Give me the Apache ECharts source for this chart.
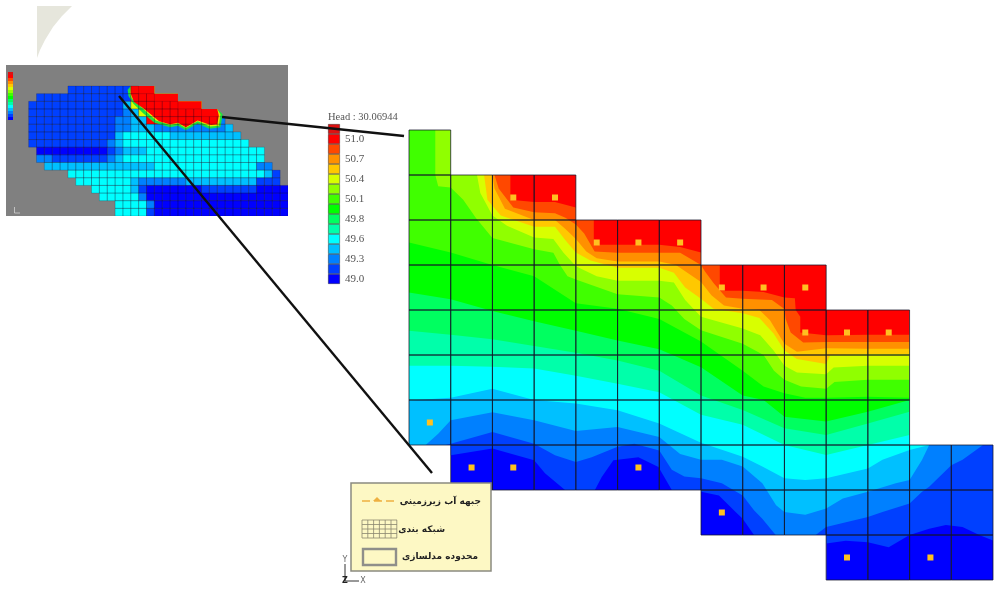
<!DOCTYPE html>
<html><head><meta charset="utf-8">
<style>html,body{margin:0;padding:0;background:#fff}#c{width:1002px;height:589px}#c canvas{filter:blur(0.5px)}</style>
<script src="https://cdn.jsdelivr.net/npm/echarts@6/dist/echarts.min.js"></script>
</head><body><div id="c"></div>
<script>
// colour ramp, bottom swatch first
const bandColors=['#0000ff','#0040ff','#0080ff','#00c0ff','#00ffff','#00ffaa','#00ff60','#00ff00','#40ff00','#90ff00','#d8ff00','#ffc800','#ff9000','#ff4800','#ff0000','#dd1111'];
const legendLabels=['49.0','','49.3','','49.6','','49.8','','50.1','','50.4','','50.7','','51.0',''];
// active model cells per row: [first column, end column]
const rowSpans=[[0,1],[0,4],[0,7],[0,10],[0,12],[0,12],[0,12],[1,14],[7,14],[10,14]];
// head contours: [column, row] along the lower edge of each band
const contour1=[[0,7.5],[1,7.23],[2,7.08],[3,7.34],[3.26,7.63],[3.74,8],[4,8.1],[4.4,8.1],[4.62,7.71],[4.9,7.34],[5.5,7.27],[5.98,7.49],[6.3,8],[6.6,8.2],[7,8.04],[7.43,8.12],[7.83,8.49],[8,8.64],[8.27,9],[8.47,9.2],[10,9.19],[10.47,9.13],[11,9.16],[11.5,9.27],[12,9],[12.47,8.86],[12.87,8.78],[13.27,8.82],[13.67,9],[14,9.12]];
const contour2=[[0,7.2],[1,6.97],[2,6.71],[3,6.97],[3.5,7.23],[4,7.38],[4.38,7.27],[5,7.04],[5.4,6.97],[6,7.12],[6.3,7.55],[6.6,7.7],[7,7.74],[7.5,7.85],[8,8.12],[8.27,8.45],[8.47,8.64],[8.79,9],[9,9.16],[9.75,9.16],[9.75,9],[10,8.82],[11,8.6],[11.35,8.49],[12,8.3],[12.3,8.04],[12.47,7.93],[13,7.45],[13.27,7.33],[13.76,7],[14,6.8]];
const contour3=[[0,7.2],[0.4,7],[0.7,6.75],[1,6.45],[2,6.27],[3,6.45],[4,6.69],[5,6.6],[6,6.82],[6.5,7.2],[7,7.33],[7.5,7.33],[8,7.48],[8.47,7.85],[8.8,8.34],[9,8.49],[9.5,8.55],[10,8.41],[10.4,8.19],[11,8.04],[11.67,7.85],[12,7.78],[12.3,7.33],[12.47,7],[12.6,6.9],[14,6.8]];
const contour4=[[0,6.01],[1,5.95],[2,5.75],[3,6],[4,6.08],[5,6.23],[6,6.52],[7,6.95],[8,7.26],[8.47,7.48],[9,7.74],[9.5,7.78],[10,7.74],[11,7.52],[11.35,7.33],[12,7.11],[12.47,7],[12.6,6.8],[14,6.7]];
const contour5=[[0,5.24],[1,5.24],[2,5.26],[3,5.3],[4,5.46],[5,5.64],[6,5.83],[7,6.33],[8,6.55],[9,7],[10,7.22],[11,7],[12,6.78],[12.5,6.6],[14,6.5]];
const contour6=[[0,4.46],[1,4.55],[2,4.65],[3,4.8],[4,4.95],[5,5.12],[6,5.35],[7,5.9],[8,6.22],[9,6.63],[10,6.78],[11,6.52],[12,6.26],[14,6.2]];
const contour7=[[0,3.61],[1,3.76],[2,4.02],[3,4.25],[4,4.46],[5,4.68],[6,4.87],[7,5.27],[8,5.9],[8.5,6],[9,6.37],[10,6.48],[11,6.26],[12,6],[14,5.9]];
const contour8=[[0,2.5],[1,2.72],[2,3],[3,3.25],[4,3.85],[5,3.97],[6,4.2],[7,4.7],[8,5.35],[8.5,5.7],[9,5.85],[9.5,5.95],[10,5.95],[11,5.93],[12,5.95],[14,5.9]];
const contour9=[[0.63,0],[0.63,1],[0.7,1.25],[1,1.28],[1.3,1.55],[1.6,1.95],[2,2.4],[3,2.65],[3.46,2.73],[3.62,3],[3.8,3.25],[4,3.32],[5,3.65],[6,3.72],[6.3,3.9],[6.6,4.2],[7,4.45],[8,4.75],[8.5,5],[8.75,5.35],[9,5.55],[9.4,5.7],[10,5.75],[10.2,5.6],[11,5.55],[12,5.55]];
const contour10=[[1.63,1],[1.71,1.4],[2,1.9],[2.35,2.13],[3,2.39],[3.46,2.42],[3.7,2.72],[4,3.03],[4.5,3.25],[5,3.35],[6,3.35],[6.35,3.39],[6.62,3.78],[7,4.15],[8,4.41],[8.42,4.56],[8.74,4.9],[9,5.24],[9.3,5.39],[10,5.43],[10.18,5.28],[11,5.24],[12,5.24]];
const contour11=[[1.8,1],[1.88,1.55],[2.2,1.9],[3,2.15],[3.5,2.15],[3.75,2.45],[4,2.72],[4.35,2.9],[5,3.06],[6,3.06],[6.35,3.17],[6.62,3.5],[7,3.75],[7.3,3.97],[8,4.07],[8.4,4.18],[8.74,4.52],[9,4.9],[9.3,5.09],[10,5.2],[10.1,5],[11,4.98],[12,4.98]];
const contour12=[[2,1],[2.05,1.3],[2.3,1.75],[3,2],[3.5,2],[3.75,2.2],[4,2.42],[4.25,2.7],[4.5,2.85],[5,2.92],[6,2.92],[6.4,3],[7,3.38],[7.25,3.67],[7.55,3.9],[8,3.97],[8.4,4],[8.65,4.22],[9,4.75],[9.3,4.93],[10,4.85],[11,4.86],[12,4.86]];
const contour13=[[2.05,1],[2.15,1.3],[2.5,1.72],[3,1.83],[3.5,1.85],[3.75,1.95],[4,2.1],[4.2,2.3],[4.45,2.7],[5,2.73],[6,2.73],[6.5,2.73],[7,3],[7.1,3.15],[7.3,3.4],[7.6,3.72],[8,3.75],[8.7,3.78],[9,3.98],[9.03,4.2],[9.15,4.5],[9.45,4.72],[10,4.71],[12,4.71]];
const contour14=[[2.43,1],[2.43,1.55],[3,1.6],[3.5,1.6],[4,1.72],[4.02,1.9],[4.43,2],[4.43,2.55],[5,2.55],[6,2.55],[6.5,2.6],[7,2.72],[7.02,2.9],[7.45,3],[7.45,3.57],[8,3.57],[8.5,3.6],[9,3.72],[9.25,3.74],[9.27,4],[9.38,4.15],[9.38,4.5],[10,4.56],[11,4.55],[12,4.55]];
// pumping wells: [column, row]
const wells=[[2.5,1.5],[3.5,1.5],[4.5,2.5],[5.5,2.5],[6.5,2.5],[7.5,3.5],[8.5,3.5],[9.5,3.5],[9.5,4.5],[10.5,4.5],[11.5,4.5],[0.5,6.5],[1.5,7.5],[2.5,7.5],[5.5,7.5],[7.5,8.5],[10.5,9.5],[12.5,9.5]];
// regional model: one band code per cell (hex index into bandColors)
const regionalRows=[
'.....111111111...................',
'.111111111111eee.................',
'1111111111113aeeeee..............',
'11111111111123aeeeeeee...........',
'111111111112233eeeeeeeee2........',
'11111111111223332222222223.......',
'111111111113444444333333333......',
'1111111111234444444444444444.....',
'.00000000012333444444444444444...',
'.22111111123444444444444444444...',
'..33333333333333444444444444422..',
'.....4444444444444444444444444311.'.slice(0,32)+'.',
'......44444443222222333333333111.',
'........444443100000001111111'+'0000',
'.........44444'+'2'+'000000000000000000',
'...........4444'+'2'+'00000000000000000',
'...........4444'+'1'+'00000000000000000'
];
// regional model red-zone edges: [column, row]
const regionalGreen=[[12.6,0.5],[12.7,1.3],[13.3,2.3],[14.6,3.6],[16,4.8],[18,5.4],[19,5.2],[20,5.8],[21.5,4.9],[23,5.6],[24.4,5.4],[24.7,3.7]];
const regionalYellow=[[12.9,0.9],[13.1,1.6],[13.6,2.1],[14.9,3.3],[16.2,4.5],[18,5.1],[19,4.9],[20,5.5],[21.5,4.6],[23.1,5.3],[24.2,5.2],[24.4,3.7]];
const regionalRed=[[13,1],[13.4,2.1],[14.6,2.9],[16,4.1],[16.6,4.6],[18,5],[19,4.8],[20,5.4],[21.5,4.5],[23.2,5.1],[24,5],[24.2,3.9]];
const regionalStairs=[[24,3],[22,3],[22,2],[19,2],[19,1],[16,1],[16,0],[13,0]];

const contours=[contour1,contour2,contour3,contour4,contour5,contour6,contour7,contour8,contour9,contour10,contour11,contour12,contour13,contour14];
const cells=[],gaps=[];
rowSpans.forEach((s,r)=>{
  for(let c=s[0];c<s[1];c++)cells.push([c,r]);
  if(s[0]>0)gaps.push([0,s[0],r]);
  if(s[1]<14)gaps.push([s[1],14,r]);
});
const regionalCells=[];
regionalRows.forEach((row,r)=>{row.slice(0,33).split('').forEach((ch,c)=>{if(ch!=='.'&&ch!==' ')regionalCells.push([c,r,parseInt(ch,16)]);});});

const rectShape=(api,x0,y0,x1,y1)=>{const a=api.coord([x0,y0]),b=api.coord([x1,y1]);return{x:a[0],y:a[1],width:b[0]-a[0],height:b[1]-a[1]};};
const series=[
 {type:'custom',name:'base',xAxisIndex:0,yAxisIndex:0,z:2,silent:true,data:cells,
  renderItem:(p,api)=>({type:'rect',shape:rectShape(api,api.value(0),api.value(1),api.value(0)+1,api.value(1)+1),style:{fill:bandColors[0]}})},
 {type:'custom',name:'contours',xAxisIndex:0,yAxisIndex:0,z:3,silent:true,clip:true,data:contours.map((c,i)=>[i,0]),
  renderItem:(p,api)=>{const i=api.value(0),c=contours[i];
    const pts=c.concat([[c[c.length-1][0],0],[c[0][0],0]]).map(q=>api.coord(q));
    return{type:'polygon',shape:{points:pts},style:{fill:bandColors[i+1]}};}},
 {type:'custom',name:'mask',xAxisIndex:0,yAxisIndex:0,z:4,silent:true,data:gaps,
  renderItem:(p,api)=>({type:'rect',shape:rectShape(api,api.value(0),api.value(2),api.value(1),api.value(2)+1),style:{fill:'#fff'}})},
 {type:'custom',name:'grid',xAxisIndex:0,yAxisIndex:0,z:5,silent:true,data:cells,
  renderItem:(p,api)=>({type:'rect',shape:rectShape(api,api.value(0),api.value(1),api.value(0)+1,api.value(1)+1),style:{fill:'none',stroke:'rgba(20,20,40,0.75)',lineWidth:1}})},
 {type:'scatter',name:'wells',xAxisIndex:0,yAxisIndex:0,z:6,silent:true,symbol:'rect',symbolSize:6,itemStyle:{color:'#ffc020',opacity:1},data:wells},
 {type:'custom',name:'regional',xAxisIndex:1,yAxisIndex:1,z:2,silent:true,clip:true,data:regionalCells,
  renderItem:(p,api)=>({type:'rect',shape:rectShape(api,api.value(0),api.value(1),api.value(0)+1,api.value(1)+1),style:{fill:bandColors[api.value(2)]}})},
 {type:'custom',name:'regionalEdge',xAxisIndex:1,yAxisIndex:1,z:3,silent:true,clip:true,data:[[0,0],[1,0],[2,0]],
  renderItem:(p,api)=>{const i=api.value(0),e=[regionalGreen,regionalYellow,regionalRed][i];
    return{type:'polygon',shape:{points:e.concat(regionalStairs).map(q=>api.coord(q))},style:{fill:['#20e040','#e8e800','#ff0000'][i]}};}},
 {type:'custom',name:'regionalGrid',xAxisIndex:1,yAxisIndex:1,z:4,silent:true,clip:true,data:regionalCells,
  renderItem:(p,api)=>({type:'rect',shape:rectShape(api,api.value(0),api.value(1),api.value(0)+1,api.value(1)+1),style:{fill:'none',stroke:'rgba(0,0,40,0.3)',lineWidth:0.6}})},
 {type:'bar',name:'legend',xAxisIndex:2,yAxisIndex:2,z:2,silent:true,barWidth:'100%',
  data:bandColors.map(c=>({value:1,itemStyle:{color:c,borderColor:'rgba(0,0,0,0.55)',borderWidth:0.7}}))}
];
const hiddenVal=(min,max,inv)=>({type:'value',min,max,inverse:!!inv,show:false,scale:false,splitLine:{show:false}});
const legendY={type:'category',gridIndex:2,data:legendLabels,position:'right',axisLine:{show:false},axisTick:{show:false},
  axisLabel:{interval:0,margin:5,color:'#555',fontFamily:'Liberation Serif',fontSize:11}};
const el=[];
// decorative corner
el.push({type:'polygon',shape:{points:[[37,6],[72,6],[62,16],[53,27],[45,40],[40,50],[37,58]]},style:{fill:'#e6e6dc'},z:1});
// callouts
el.push({type:'line',shape:{x1:222,y1:117,x2:404,y2:136},style:{stroke:'#111',lineWidth:2.4},z:50});
el.push({type:'line',shape:{x1:119,y1:96,x2:432,y2:473},style:{stroke:'#111',lineWidth:2.4},z:50});
// small legend inside the regional picture
bandColors.forEach((c,i)=>el.push({type:'rect',shape:{x:8,y:117-i*3,width:5,height:3},style:{fill:c},z:50}));
el.push({type:'line',shape:{x1:14.5,y1:207,x2:14.5,y2:213},style:{stroke:'#ddd',lineWidth:0.7},z:50});
el.push({type:'line',shape:{x1:14.5,y1:213,x2:20,y2:213},style:{stroke:'#ddd',lineWidth:0.7},z:50});
// legend title
el.push({type:'text',style:{x:328,y:117,text:'Head : 30.06944',fill:'#555',font:'10.5px "Liberation Serif"',textVerticalAlign:'middle'},z:50});
// key box
el.push({type:'rect',shape:{x:351,y:483,width:140,height:88},style:{fill:'#fdf8c4',stroke:'#8a8a80',lineWidth:1.5},z:60});
el.push({type:'line',shape:{x1:362,y1:501,x2:398,y2:501},style:{stroke:'#eeb040',lineWidth:1.6,lineDash:[8,4]},z:61});
el.push({type:'polygon',shape:{points:[[373,501],[377,497],[381,501]]},style:{fill:'#eeb040'},z:61});
for(let i=0;i<=6;i++)el.push({type:'line',shape:{x1:362+i*5.8,y1:520,x2:362+i*5.8,y2:538},style:{stroke:'#8a8770',lineWidth:0.8},z:61});
for(let i=0;i<=4;i++)el.push({type:'line',shape:{x1:362,y1:520+i*4.5,x2:397,y2:520+i*4.5},style:{stroke:'#8a8770',lineWidth:0.8},z:61});
el.push({type:'rect',shape:{x:363,y:549,width:33,height:16},style:{fill:'#fdf8c4',stroke:'#8f8f8a',lineWidth:2.4},z:61});
[['جبهه آب زیرزمینی',481,502],['شبکه بندی',445,530],['محدوده مدلسازی',478,557]].forEach(t=>
  el.push({type:'text',style:{x:t[1],y:t[2],text:t[0],fill:'#222',font:'bold 9px "DejaVu Sans"',textAlign:'right',textVerticalAlign:'middle'},z:61}));
// axis triad
el.push({type:'line',shape:{x1:345,y1:564,x2:345,y2:581},style:{stroke:'#333',lineWidth:1},z:61});
el.push({type:'line',shape:{x1:345,y1:581,x2:359,y2:581},style:{stroke:'#333',lineWidth:1},z:61});
el.push({type:'text',style:{x:345,y:560,text:'Y',fill:'#666',font:'8px "DejaVu Sans"',textAlign:'center',textVerticalAlign:'middle'},z:61});
el.push({type:'text',style:{x:363,y:581,text:'X',fill:'#666',font:'8px "DejaVu Sans"',textAlign:'center',textVerticalAlign:'middle'},z:61});
el.push({type:'text',style:{x:345,y:581,text:'Z',fill:'#222',font:'bold 8px "DejaVu Sans"',textAlign:'center',textVerticalAlign:'middle'},z:61});

const chart=echarts.init(document.getElementById('c'),null,{renderer:'canvas'});
chart.setOption({
 animation:false,backgroundColor:'#fff',
 grid:[
  {left:409,top:130,width:584,height:450,show:false},
  {left:6,top:65,width:282,height:151,show:true,backgroundColor:'#808080',borderWidth:0},
  {left:328,top:124,width:12,height:160,show:false}
 ],
 xAxis:[Object.assign(hiddenVal(0,14),{gridIndex:0}),Object.assign(hiddenVal(-2.88,33),{gridIndex:1}),Object.assign(hiddenVal(0,1),{gridIndex:2})],
 yAxis:[Object.assign(hiddenVal(0,10,true),{gridIndex:0}),Object.assign(hiddenVal(-2.75,17,true),{gridIndex:1}),legendY],
 series,
 graphic:{elements:el}
});
</script></body></html>
